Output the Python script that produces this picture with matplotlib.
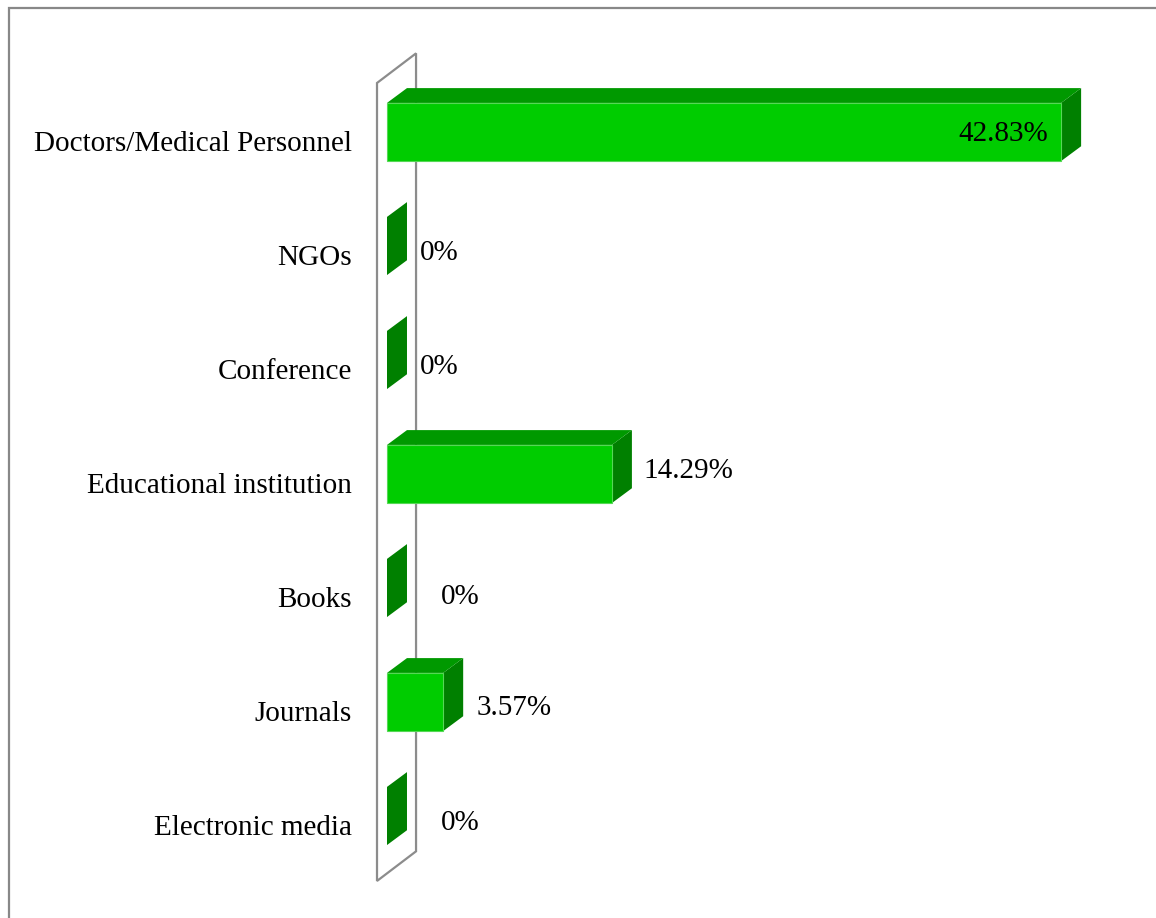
import matplotlib.pyplot as plt
from matplotlib.patches import Polygon, Rectangle

plt.rcParams['font.family'] = ['Liberation Serif', 'DejaVu Serif']

categories = ['Doctors/Medical Personnel', 'NGOs', 'Conference',
              'Educational institution', 'Books', 'Journals', 'Electronic media']
values = [42.83, 0, 0, 14.29, 0, 3.57, 0]
value_labels = ['42.83%', '0%', '0%', '14.29%', '0%', '3.57%', '0%']

# label placement tweaks (x gap after bar end, vertical nudge)
label_pad = [-0.8, 2.1, 2.1, 2.0, 3.4, 2.1, 3.4]
label_dy = [0.02, 0.065, 0.065, -0.03, 0.075, 0.055, 0.065]

front_col = '#00cc00'
top_col = '#009900'
side_col = '#008000'
edge_col = '#55d855'

bar_h = 0.51
dx, dy = 1.27, -0.13          # depth of the bars
wdx, wdy = 2.48, -0.26        # depth of the wall
wall_x = -0.635

fig = plt.figure(figsize=(11.56, 9.18), dpi=100)
ax = fig.add_axes([387 / 1156, 18 / 918, 713 / 1156, 860 / 918])
ax.set_xlim(0, 45.3)
ax.set_ylim(6.737, -0.807)
ax.axis('off')

# outer chart frame (only top and left edges fall inside the image)
fig.add_artist(Rectangle((9 / 1156, -0.5), 2, 1.5 - 8 / 918,
                         transform=fig.transFigure, fill=False,
                         edgecolor='#888888', linewidth=1.6))

# back wall outline
n = len(categories)
wt, wb = -0.43, n - 1 + 0.57
wall = Polygon([(wall_x, wt), (wall_x + wdx, wt + wdy), (wall_x + wdx, wb + wdy), (wall_x, wb)],
               closed=True, fill=False, edgecolor='#8c8c8c', linewidth=1.6,
               clip_on=False, zorder=1)
ax.add_patch(wall)

for i, (v, lab) in enumerate(zip(values, value_labels)):
    top, bot = i - bar_h / 2, i + bar_h / 2
    # right side face
    ax.add_patch(Polygon([(v, top), (v + dx, top + dy), (v + dx, bot + dy), (v, bot)],
                         closed=True, facecolor=side_col, edgecolor='none',
                         clip_on=False, zorder=3))
    if v > 0:
        # top face
        ax.add_patch(Polygon([(0, top), (dx, top + dy), (v + dx, top + dy), (v, top)],
                             closed=True, facecolor=top_col, edgecolor='none',
                             clip_on=False, zorder=3))
        # front face
        ax.add_patch(Rectangle((0, top), v, bar_h, facecolor=front_col,
                               edgecolor=edge_col, linewidth=0.8,
                               clip_on=False, zorder=4))
    ha = 'right' if label_pad[i] < 0 else 'left'
    ax.text(v + label_pad[i], i + label_dy[i], lab, ha=ha, va='center',
            fontsize=21, zorder=5)
    ax.text(-2.22, i + 0.105, categories[i], ha='right', va='center',
            fontsize=21, clip_on=False)

fig.savefig('out.png', dpi=100)
